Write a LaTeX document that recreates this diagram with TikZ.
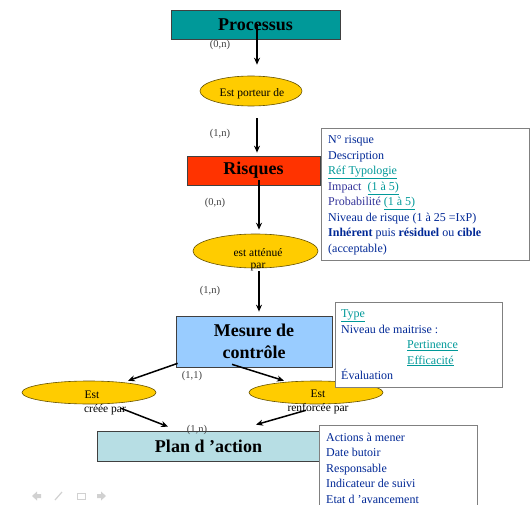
\documentclass[tikz,border=0pt]{standalone}
\usepackage{fontspec}
\setmainfont{Liberation Serif}
\usetikzlibrary{arrows.meta,shapes.geometric}
\definecolor{procc}{RGB}{0,153,153}
\definecolor{riskc}{RGB}{255,51,0}
\definecolor{mesc}{RGB}{153,204,255}
\definecolor{planc}{RGB}{183,222,228}
\definecolor{goldc}{RGB}{255,204,0}
\definecolor{infob}{RGB}{0,40,150}
\definecolor{infop}{RGB}{51,51,153}
\definecolor{linkc}{RGB}{0,153,153}
\definecolor{cardc}{RGB}{64,64,64}
\newcommand{\lk}[1]{\textcolor{linkc}{\underline{#1}}}
\begin{document}
\begin{tikzpicture}[x=1pt,y=-1pt,
  tbox/.style={draw=black!75,line width=0.7pt,inner sep=0pt,font=\fontsize{18}{22}\selectfont\bfseries,align=center},
  rel/.style={ellipse,draw=black!60!goldc,line width=0.6pt,fill=goldc,inner sep=0pt},
  reltxt/.style={inner sep=0pt,font=\fontsize{11.5}{13}\selectfont},
  card/.style={inner sep=0pt,text=cardc,font=\fontsize{10.5}{12}\selectfont},
  arr/.style={-{Stealth[length=7pt,width=6pt]},line width=1.5pt},
  infobox/.style={draw=black!50,line width=0.9pt,fill=white},
  infotxt/.style={anchor=north west,inner sep=0pt,align=left,text=infob,font=\fontsize{12}{15.5}\selectfont},
  nav/.style={fill=black!18,draw=none}]
\useasboundingbox[fill=white] (0,0) rectangle (530,505);

% main boxes
\node[tbox,fill=procc,minimum width=169,minimum height=29] (proc) at (255.5,24.5) {Processus};
\node[tbox,fill=riskc,minimum width=133,minimum height=29] (risk) at (253.5,170.5) {Risques};
\node[tbox,fill=mesc,minimum width=156,minimum height=51] (mes) at (254,341.5) {Mesure de\\contr\^ole};
\node[tbox,fill=planc,minimum width=223,minimum height=30] (plan) at (208.5,446) {Plan d 'action};

% relation ellipses
\node[rel,minimum width=102,minimum height=30] (e1) at (251,91) {};
\node[reltxt] (t1) at (252,94) {Est porteur de};
\node[rel,minimum width=125,minimum height=34] (e2) at (255.5,251) {};
\node[reltxt] (t2a) at (258,253) {est atténué};
\node[reltxt] (t2b) at (258,267) {par};
\node[rel,minimum width=134,minimum height=23] (eL) at (89,392.5) {};
\node[reltxt] (tLa) at (92,395) {Est};
\node[reltxt] (tLb) at (105,410) {créée par};
\node[rel,minimum width=134,minimum height=23] (eR) at (316,392.5) {};
\node[reltxt] (tRa) at (318,394) {Est};
\node[reltxt] (tRb) at (318,409) {renforcée par};

% cardinalities
\node[card] (c1) at (220,45) {(0,n)};
\node[card] (c2) at (220,134) {(1,n)};
\node[card] (c3) at (215,203) {(0,n)};
\node[card] (c4) at (210,291) {(1,n)};
\node[card] (c5) at (192,376) {(1,1)};
\node[card] (c6) at (197,430) {(1,n)};

% arrows
\draw[arr] ([xshift=1.5pt]proc.center) -- ([xshift=6pt,yshift=11pt]e1.north);
\draw[arr] ([xshift=6pt,yshift=-12pt]e1.south) -- ([xshift=3.5pt,yshift=3pt]risk.north);
\draw[arr] ([xshift=5.5pt,yshift=-10pt]risk.center) -- ([xshift=3.5pt,yshift=4pt]e2.north);
\draw[arr] ([xshift=3.5pt,yshift=-3pt]e2.south) -- ([xshift=5pt,yshift=4pt]mes.north);
\draw[arr] ([xshift=2pt,yshift=4pt]mes.south west) -- ([xshift=39pt]eL.north);
\draw[arr] ([xshift=-22pt,yshift=3pt]mes.south) -- ([xshift=-32pt]eR.north);
\draw[arr] ([xshift=32pt,yshift=-4pt]eL.south) -- ([xshift=-40.5pt,yshift=4pt]plan.north);
\draw[arr] ([xshift=-10pt,yshift=-6pt]eR.south) -- ([xshift=47.5pt,yshift=6pt]plan.north);

% info boxes
\node[infobox,anchor=north west,minimum width=208,minimum height=132,inner sep=0pt] (b1) at (321,128) {};
\node[infotxt] (b1t) at (328,135.5) {N° risque\\
Description\\
\lk{Réf Typologie}\\
\textcolor{infop}{Impact}\ \ \lk{(1 à 5)}\\
\textcolor{infop}{Probabilité} \lk{(1 à 5)}\\
Niveau de risque (1 à 25 =IxP)\\
\textbf{Inhérent} puis \textbf{résiduel} ou \textbf{cible}\\
(acceptable)};

\node[infobox,anchor=north west,minimum width=167,minimum height=85,inner sep=0pt] (b2) at (335,302) {};
\node[infotxt] (b2t) at (341,309.5) {\lk{Type}\\
Niveau de maitrise :\\
\hspace*{66pt}\lk{Pertinence}\\
\hspace*{66pt}\lk{Efficacité}\\
Évaluation};

\fill[white] (319,425) rectangle (477,505);
\draw[draw=black!50,line width=0.9pt] (319,505) -- (319,425) -- (477,425) -- (477,505);
\node[infotxt] (b3t) at (326,432.5) {Actions à mener\\
Date butoir\\
Responsable\\
Indicateur de suivi\\
Etat d 'avancement};

% faint navigation icons
\fill[nav] (32,496) -- (37,491.5) -- (37,494) -- (41,494) -- (41,498) -- (37,498) -- (37,500.5) -- cycle;
\draw[black!18,line width=1.2pt] (55,500) -- (62,492);
\draw[black!18,line width=1pt] (77,493) rectangle (85,499);
\fill[nav] (106,496) -- (101,491.5) -- (101,494) -- (97,494) -- (97,498) -- (101,498) -- (101,500.5) -- cycle;
\end{tikzpicture}
\end{document}
